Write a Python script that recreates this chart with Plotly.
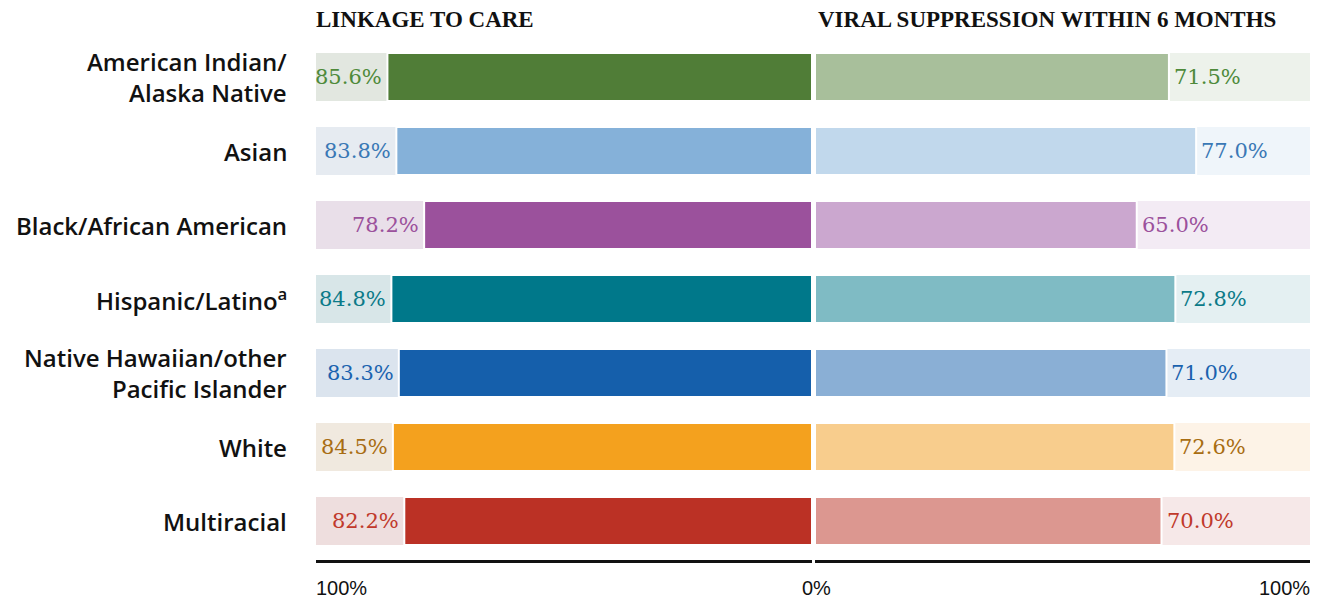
import plotly.graph_objects as go

categories = ["American Indian/<br>Alaska Native", "Asian", "Black/African American",
              "Hispanic/Latino<sup>a</sup>", "Native Hawaiian/other<br>Pacific Islander",
              "White", "Multiracial"]
linkage = [85.6, 83.8, 78.2, 84.8, 83.3, 84.5, 82.2]
suppression = [71.5, 77.0, 65.0, 72.8, 71.0, 72.6, 70.0]

main_colors = ["#507d37", "#85b1d9", "#9b519c", "#00788a", "#155fab", "#f4a11e", "#bb3125"]
light_colors = ["#a8bf9b", "#c1d8ec", "#cba7cf", "#7fbbc4", "#8aafd5", "#f8cd8d", "#dc9790"]
bg_left = ["#e2e7e0", "#e6ebf1", "#e9dfe9", "#d8e6e8", "#dbe4ee", "#f0e9df", "#eedede"]
bg_right = ["#edf2eb", "#eff5fa", "#f3ebf4", "#e4f0f2", "#e5edf5", "#fdf3e7", "#f6e8e8"]
text_colors = ["#4e8a3a", "#3a78b5", "#9b519c", "#0b7a88", "#1a62ae", "#a86d12", "#c0392b"]

W, H = 1320, 601
ys = list(range(len(categories)))
full = [100] * len(categories)
bw = 0.65

fig = go.Figure()
# background bars
fig.add_trace(go.Bar(x=full, y=ys, orientation="h", xaxis="x", yaxis="y",
                     marker=dict(color=bg_left, line=dict(width=0)), width=bw,
                     hoverinfo="skip", showlegend=False))
fig.add_trace(go.Bar(x=full, y=ys, orientation="h", xaxis="x2", yaxis="y",
                     marker=dict(color=bg_right, line=dict(width=0)), width=bw,
                     hoverinfo="skip", showlegend=False))
# main bars
fig.add_trace(go.Bar(x=linkage, y=ys, orientation="h", xaxis="x", yaxis="y",
                     marker=dict(color=main_colors, line=dict(color="white", width=2)),
                     width=bw, showlegend=False))
fig.add_trace(go.Bar(x=suppression, y=ys, orientation="h", xaxis="x2", yaxis="y",
                     marker=dict(color=light_colors, line=dict(color="white", width=2)),
                     width=bw, showlegend=False))

annotations = []
val_font = "DejaVu Serif, serif"
for i in ys:
    annotations.append(dict(x=linkage[i], y=i, xref="x", yref="y", text=f"{linkage[i]:.1f}%",
                            showarrow=False, xanchor="right", xshift=-3,
                            font=dict(family=val_font, size=21, color=text_colors[i])))
    annotations.append(dict(x=suppression[i], y=i, xref="x2", yref="y", text=f"{suppression[i]:.1f}%",
                            showarrow=False, xanchor="left", xshift=3,
                            font=dict(family=val_font, size=21, color=text_colors[i])))
    annotations.append(dict(x=289 / W, y=i, xref="paper", yref="y", text=categories[i],
                            showarrow=False, xanchor="right", align="right",
                            font=dict(family="Open Sans, sans-serif", size=24, color="#111111",
                                      weight=600)))

title_font = dict(family="Liberation Serif, serif", size=23, color="#111111", weight=700)
annotations.append(dict(x=314 / W, y=1 - 20 / H, xref="paper", yref="paper", text="LINKAGE TO CARE",
                        showarrow=False, xanchor="left", yanchor="middle", font=title_font))
annotations.append(dict(x=816 / W, y=1 - 20 / H, xref="paper", yref="paper",
                        text="VIRAL SUPPRESSION WITHIN 6 MONTHS",
                        showarrow=False, xanchor="left", yanchor="middle", font=title_font))

tick_font = dict(family="Liberation Sans Narrow, Arial Narrow, sans-serif", size=20, color="#111111")
tick_y = 1 - 588 / H
annotations.append(dict(x=100, y=tick_y, xref="x", yref="paper", text="100%", showarrow=False,
                        xanchor="left", yanchor="middle", xshift=-2, font=tick_font))
annotations.append(dict(x=0, y=tick_y, xref="x2", yref="paper", text="0%", showarrow=False,
                        xanchor="center", yanchor="middle", xshift=1, font=tick_font))
annotations.append(dict(x=100, y=tick_y, xref="x2", yref="paper", text="100%", showarrow=False,
                        xanchor="right", yanchor="middle", xshift=2, font=tick_font))

y_top = -77 / 74
y_bot = (560 - 77) / 74

fig.update_layout(
    width=W, height=H,
    margin=dict(l=0, r=0, t=0, b=0),
    paper_bgcolor="white", plot_bgcolor="white",
    barmode="overlay",
    xaxis=dict(domain=[316 / W, 812 / W], range=[100, 0], showgrid=False, zeroline=False,
               showticklabels=False, ticks="", showline=True, linewidth=3, linecolor="#111111",
               fixedrange=True),
    xaxis2=dict(domain=[815 / W, 1310 / W], range=[0, 100], showgrid=False, zeroline=False,
                showticklabels=False, ticks="", showline=True, linewidth=3, linecolor="#111111",
                anchor="y", fixedrange=True),
    yaxis=dict(domain=[1 - 560 / H, 1], range=[y_bot, y_top], showgrid=False, zeroline=False,
               showticklabels=False, ticks="", showline=False, fixedrange=True),
    annotations=annotations,
)

fig.write_html("out.html", config={"displayModeBar": False},
               post_script="document.body.style.margin='0';document.body.style.overflow='hidden';")
